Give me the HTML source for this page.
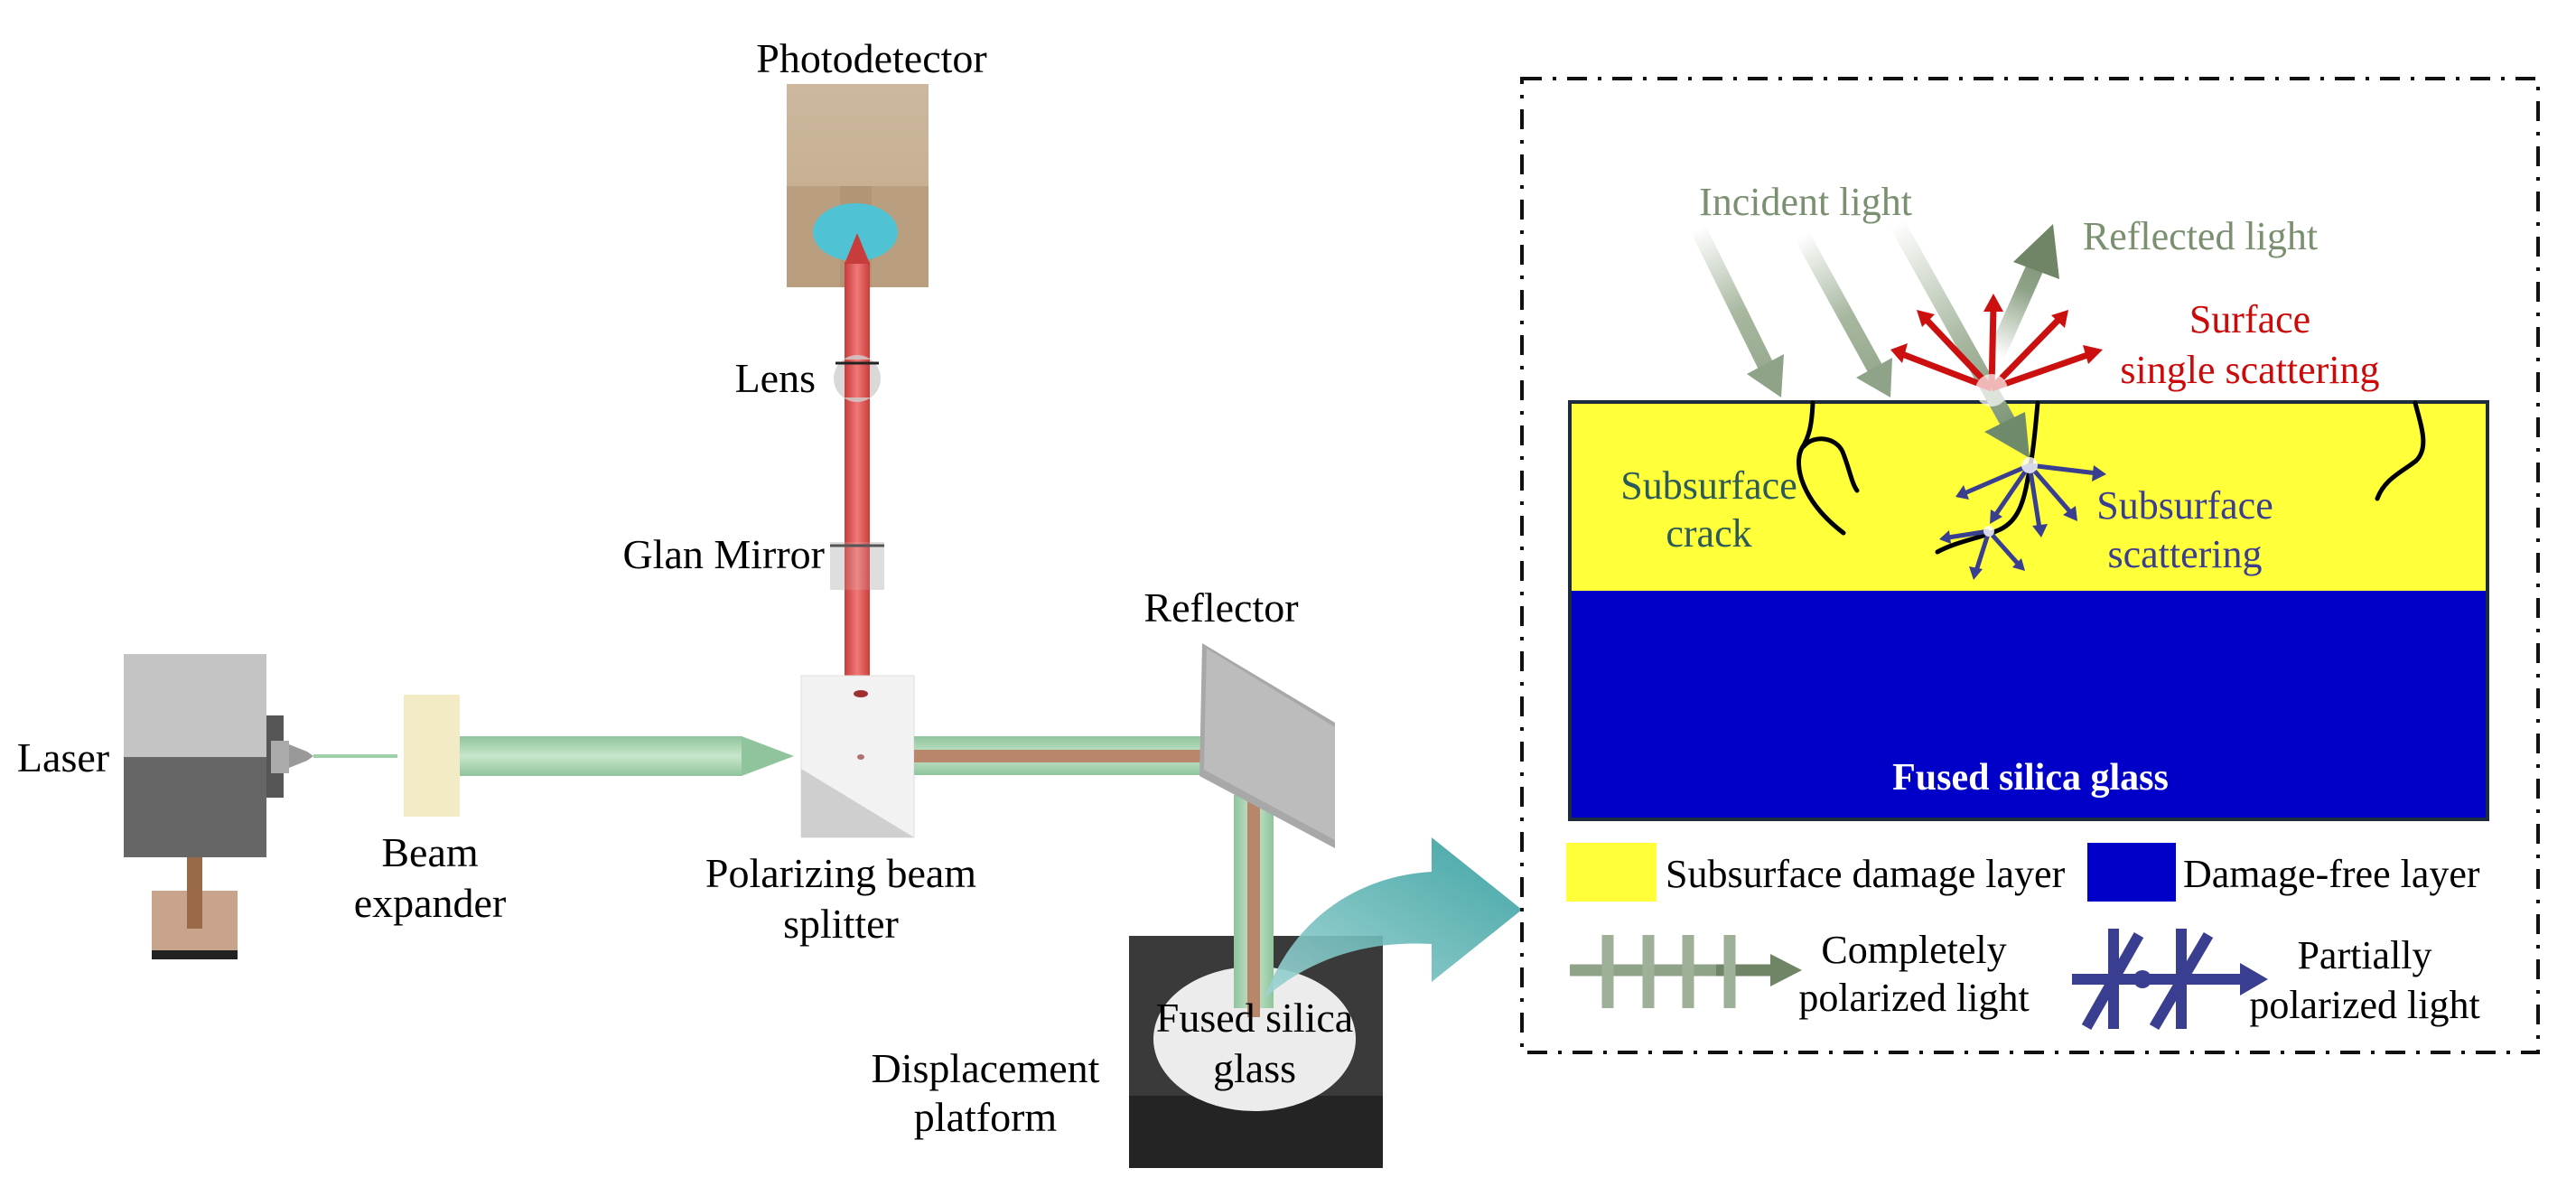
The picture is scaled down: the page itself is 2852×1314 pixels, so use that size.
<!DOCTYPE html>
<html><head><meta charset="utf-8"><style>
html,body{margin:0;padding:0;background:#fff;width:2852px;height:1314px;overflow:hidden}
svg{display:block}
svg text{font-family:"Liberation Serif","Times New Roman",Times,serif}
</style></head><body>
<svg width="2852" height="1314" viewBox="0 0 2852 1314" xmlns="http://www.w3.org/2000/svg">
<defs>
<linearGradient id="tan" x1="0" y1="0" x2="0" y2="1"><stop offset="0" stop-color="#cdb89e"/><stop offset="1" stop-color="#c2a888"/></linearGradient>
<linearGradient id="red" x1="0" y1="0" x2="1" y2="0"><stop offset="0" stop-color="#c83c3c"/><stop offset=".5" stop-color="#f07878"/><stop offset="1" stop-color="#c83c3c"/></linearGradient>
<linearGradient id="grn" x1="0" y1="0" x2="0" y2="1"><stop offset="0" stop-color="#8fc49c"/><stop offset=".5" stop-color="#c8e6cc"/><stop offset="1" stop-color="#8fc49c"/></linearGradient>
<linearGradient id="grnv" x1="0" y1="0" x2="1" y2="0"><stop offset="0" stop-color="#8fc49c"/><stop offset=".5" stop-color="#c8e6cc"/><stop offset="1" stop-color="#8fc49c"/></linearGradient>
<linearGradient id="teal" x1="0" y1="1" x2="1" y2="0"><stop offset="0" stop-color="#9fd4d4"/><stop offset="1" stop-color="#2c9a9a"/></linearGradient>
<linearGradient id="ig1" gradientUnits="userSpaceOnUse" x1="1880" y1="253" x2="1972" y2="438"><stop offset="0" stop-color="#fff"/><stop offset=".5" stop-color="#a8b8a0"/><stop offset="1" stop-color="#8fa388"/></linearGradient>
<linearGradient id="ig2" gradientUnits="userSpaceOnUse" x1="1995" y1="261" x2="2093" y2="438"><stop offset="0" stop-color="#fff"/><stop offset=".5" stop-color="#a8b8a0"/><stop offset="1" stop-color="#8fa388"/></linearGradient>
<linearGradient id="ig3" gradientUnits="userSpaceOnUse" x1="2100" y1="247" x2="2247" y2="507"><stop offset="0" stop-color="#fff"/><stop offset=".5" stop-color="#a8b8a0"/><stop offset="1" stop-color="#6f8a6a"/></linearGradient>
<linearGradient id="rg" gradientUnits="userSpaceOnUse" x1="2210" y1="393" x2="2273" y2="248"><stop offset="0" stop-color="#fff"/><stop offset=".5" stop-color="#8fa388"/><stop offset="1" stop-color="#6f8566"/></linearGradient>
</defs>

<text x="965" y="80" font-size="46" text-anchor="middle">Photodetector</text>
<rect x="871" y="93" width="157" height="225" fill="url(#tan)"/>
<rect x="871" y="206" width="157" height="112" fill="#b99f80"/>
<rect x="930" y="206" width="35" height="112" fill="#a88c6c" opacity=".5"/>
<ellipse cx="947" cy="257" rx="47" ry="32" fill="#4fc3d4"/>
<rect x="935" y="290" width="28" height="458" fill="url(#red)"/>
<polygon points="935,292 949,258 963,292" fill="#c83c3c"/>
<ellipse cx="949" cy="419" rx="26" ry="26" fill="#d0d0d0" opacity=".8"/>
<rect x="935" y="398" width="28" height="42" fill="url(#red)"/>
<line x1="925" y1="402" x2="973" y2="402" stroke="#222" stroke-width="3"/>
<text x="903" y="434" font-size="46" text-anchor="end">Lens</text>
<rect x="919" y="600" width="60" height="53" fill="#d8d8d8" opacity=".85"/>
<rect x="935" y="600" width="28" height="53" fill="url(#red)" opacity=".8"/>
<line x1="919" y1="604" x2="979" y2="604" stroke="#555" stroke-width="3"/>
<text x="913" y="629" font-size="46" text-anchor="end">Glan Mirror</text>

<rect x="887" y="748" width="125" height="179" fill="#f2f2f2" stroke="#ddd"/>
<polygon points="887,851 1012,927 887,927" fill="#cfcfcf"/>
<ellipse cx="953" cy="768" rx="8" ry="4" fill="#a03030"/>
<ellipse cx="953" cy="838" rx="4" ry="3" fill="#b07070"/>
<text x="931" y="982" font-size="46" text-anchor="middle">Polarizing beam</text>
<text x="931" y="1038" font-size="46" text-anchor="middle">splitter</text>

<rect x="137" y="724" width="158" height="114" fill="#c4c4c4"/>
<rect x="137" y="838" width="158" height="111" fill="#666"/>
<rect x="295" y="792" width="19" height="91" fill="#555"/>
<rect x="300" y="820" width="20" height="36" fill="#aaa"/>
<polygon points="320,824 340,832 347,837 340,842 320,850" fill="#999"/>
<rect x="347" y="835" width="93" height="4" fill="#9ed0a8"/>
<rect x="168" y="986" width="95" height="76" fill="#c9a48c"/>
<rect x="168" y="1052" width="95" height="10" fill="#222"/>
<rect x="207" y="949" width="17" height="79" fill="#9a6a48"/>
<text x="70" y="854" font-size="46" text-anchor="middle">Laser</text>

<rect x="447" y="769" width="62" height="135" fill="#f3ebc5"/>
<text x="476" y="959" font-size="46" text-anchor="middle">Beam</text>
<text x="476" y="1015" font-size="46" text-anchor="middle">expander</text>
<rect x="509" y="815" width="312" height="44" fill="url(#grn)"/>
<polygon points="821,815 879,837 821,859" fill="#8fc49c"/>

<rect x="1012" y="815" width="330" height="43" fill="url(#grn)"/>
<rect x="1012" y="830" width="330" height="14" fill="#b8866a"/>
<rect x="1366" y="880" width="44" height="230" fill="url(#grnv)"/>
<rect x="1381" y="880" width="14" height="230" fill="#b8866a"/>

<polygon points="1331,712 1478,800 1478,939 1328,859" fill="#a8a8a8"/>
<polygon points="1336,718 1478,805 1478,930 1333,852" fill="#bcbcbc"/>
<text x="1352" y="688" font-size="46" text-anchor="middle">Reflector</text>

<rect x="1250" y="1036" width="281" height="257" fill="#3a3a3a"/>
<rect x="1250" y="1213" width="281" height="80" fill="#242424"/>
<ellipse cx="1389" cy="1150" rx="112" ry="80" fill="#ececec"/>
<rect x="1366" y="1036" width="44" height="80" fill="url(#grnv)"/>
<rect x="1381" y="1036" width="14" height="90" fill="#b8866a"/>
<text x="1389" y="1142" font-size="46" text-anchor="middle">Fused silica</text>
<text x="1389" y="1198" font-size="46" text-anchor="middle">glass</text>
<text x="1091" y="1198" font-size="46" text-anchor="middle">Displacement</text>
<text x="1091" y="1252" font-size="46" text-anchor="middle">platform</text>

<path d="M1400,1105 C1430,1020 1500,970 1585,965 L1585,927 L1685,1007 L1585,1087 L1585,1045 C1500,1040 1440,1070 1400,1105 Z" fill="url(#teal)" opacity=".9"/>

<rect x="1685" y="87" width="1125" height="1078" fill="none" stroke="#111" stroke-width="4" stroke-dasharray="22,12,4,12"/>
<rect x="1738" y="445" width="1016" height="209" fill="#ffff3a"/>
<rect x="1738" y="654" width="1016" height="253" fill="#0000c8"/>
<rect x="1738" y="445" width="1016" height="462" fill="none" stroke="#1c2c3c" stroke-width="4"/>
<text x="2248" y="874" font-size="42" font-weight="bold" fill="#fff" text-anchor="middle">Fused silica glass</text>

<g font-size="44" text-anchor="middle">
<text x="1999" y="238" fill="#7a9070">Incident light</text>
<text x="2436" y="276" fill="#7a9070">Reflected light</text>
<text x="2491" y="368" fill="#cc0a0a">Surface</text>
<text x="2491" y="424" fill="#cc0a0a">single scattering</text>
<text x="1892" y="552" fill="#2a5a5a">Subsurface</text>
<text x="1892" y="605" fill="#2a5a5a">crack</text>
<text x="2419" y="574" fill="#3a3e90">Subsurface</text>
<text x="2419" y="628" fill="#3a3e90">scattering</text>
</g>

<line x1="1880" y1="253" x2="1955" y2="405" stroke="url(#ig1)" stroke-width="18"/>
<polygon points="1934,414 1975,392 1972,440" fill="#8fa388"/>
<line x1="1995" y1="261" x2="2076" y2="408" stroke="url(#ig2)" stroke-width="18"/>
<polygon points="2055,418 2095,396 2093,440" fill="#8fa388"/>
<line x1="2100" y1="247" x2="2228" y2="476" stroke="url(#ig3)" stroke-width="18"/>
<polygon points="2197,478 2242,456 2247,507" fill="#6f8a6a"/>
<line x1="2210" y1="393" x2="2258" y2="285" stroke="url(#rg)" stroke-width="20"/>
<polygon points="2229,290 2273,248 2280,309" fill="#6f8566"/>
<g stroke="#cc1010" stroke-width="7" fill="#cc1010">
<line x1="2205" y1="430" x2="2106" y2="392"/><polygon points="2093,387 2112,380 2106,402" stroke="none"/>
<line x1="2205" y1="430" x2="2132" y2="353"/><polygon points="2122,343 2142,348 2128,362" stroke="none"/>
<line x1="2205" y1="430" x2="2207" y2="340"/><polygon points="2207,325 2218,345 2196,345" stroke="none"/>
<line x1="2205" y1="430" x2="2279" y2="354"/><polygon points="2290,343 2286,363 2271,349" stroke="none"/>
<line x1="2205" y1="430" x2="2314" y2="392"/><polygon points="2328,387 2312,403 2306,382" stroke="none"/>
</g>
<circle cx="2205" cy="432" r="18" fill="#fff" opacity=".7"/>

<g fill="none" stroke="#000" stroke-width="5" stroke-linecap="round">
<path d="M2007,446 C2006,470 2003,484 1995,496 C1985,515 1995,555 2041,590"/>
<path d="M1997,494 C2010,480 2033,485 2040,500 C2048,520 2050,535 2056,543"/>
<path d="M2256,446 C2253,480 2250,510 2245,530 C2240,560 2232,580 2210,588 C2190,596 2165,600 2145,611"/>
<path d="M2674,446 C2680,470 2690,495 2675,510 C2660,522 2640,530 2632,552"/>
</g>
<g stroke="#3a3e90" stroke-width="5" fill="#3a3e90">
<line x1="2247" y1="515" x2="2322" y2="524"/><polygon points="2332,525 2316,533 2318,515" stroke="none"/>
<line x1="2247" y1="515" x2="2175" y2="546"/><polygon points="2165,550 2174,537 2180,553" stroke="none"/>
<line x1="2247" y1="515" x2="2294" y2="569"/><polygon points="2300,577 2284,570 2298,560" stroke="none"/>
<line x1="2247" y1="515" x2="2258" y2="585"/><polygon points="2260,595 2250,582 2267,580" stroke="none"/>
<line x1="2247" y1="515" x2="2208" y2="572"/><polygon points="2203,580 2204,564 2217,572" stroke="none"/>
<line x1="2202" y1="588" x2="2157" y2="595"/><polygon points="2147,597 2158,587 2160,602" stroke="none"/>
<line x1="2202" y1="588" x2="2188" y2="632"/><polygon points="2185,642 2180,627 2195,630" stroke="none"/>
<line x1="2202" y1="588" x2="2235" y2="625"/><polygon points="2242,632 2228,628 2238,618" stroke="none"/>
</g>
<circle cx="2247" cy="515" r="9" fill="#fff" opacity=".8"/>
<circle cx="2202" cy="588" r="6" fill="#fff" opacity=".8"/>

<rect x="1734" y="933" width="100" height="65" fill="#ffff3a"/>
<text x="1844" y="982" font-size="44">Subsurface damage layer</text>
<rect x="2311" y="933" width="98" height="65" fill="#0000c8"/>
<text x="2417" y="982" font-size="44">Damage-free layer</text>

<line x1="1738" y1="1074" x2="1970" y2="1074" stroke="#8fa388" stroke-width="13"/>
<line x1="1900" y1="1074" x2="1970" y2="1074" stroke="#6f8566" stroke-width="13"/>
<polygon points="1960,1056 1995,1074 1960,1092" fill="#6f8566"/>
<g stroke="#9fb098" stroke-width="13">
<line x1="1780" y1="1035" x2="1780" y2="1116"/><line x1="1825" y1="1035" x2="1825" y2="1116"/>
<line x1="1869" y1="1035" x2="1869" y2="1116"/><line x1="1915" y1="1035" x2="1915" y2="1116"/>
</g>
<text x="2119" y="1066" font-size="44" text-anchor="middle">Completely</text>
<text x="2119" y="1119" font-size="44" text-anchor="middle">polarized light</text>

<g stroke="#3a3e90" stroke-width="12">
<line x1="2294" y1="1084" x2="2490" y2="1084"/>
<line x1="2340" y1="1028" x2="2340" y2="1139"/>
<line x1="2415" y1="1028" x2="2415" y2="1139"/>
<line x1="2310" y1="1137" x2="2368" y2="1035"/>
<line x1="2385" y1="1137" x2="2445" y2="1035"/>
</g>
<circle cx="2372" cy="1084" r="10" fill="#3a3e90"/>
<polygon points="2480,1066 2511,1084 2480,1102" fill="#3a3e90"/>
<text x="2618" y="1072" font-size="44" text-anchor="middle">Partially</text>
<text x="2618" y="1127" font-size="44" text-anchor="middle">polarized light</text>
</svg>
</body></html>
